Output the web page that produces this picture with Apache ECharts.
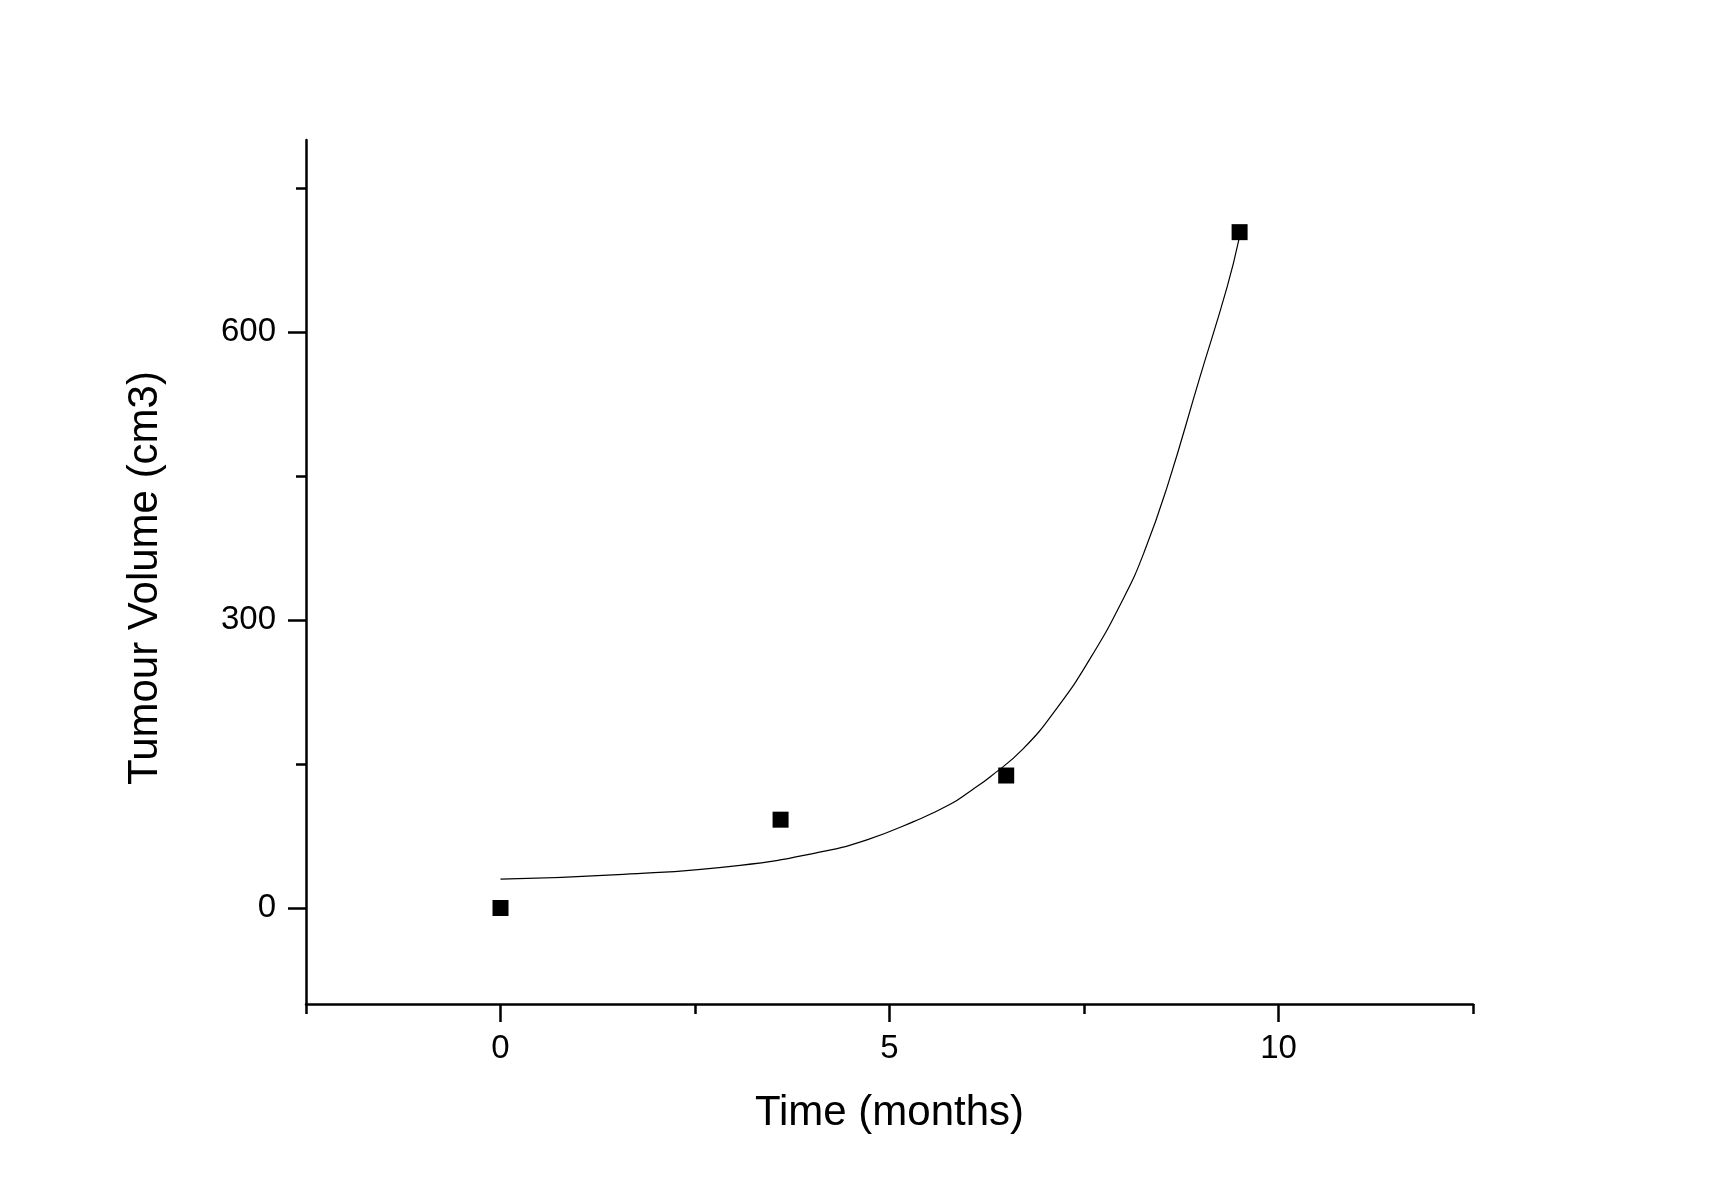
<!DOCTYPE html>
<html>
<head>
<meta charset="utf-8">
<script src="https://cdn.jsdelivr.net/npm/echarts@6/dist/echarts.min.js"></script>
<style>
html,body{margin:0;padding:0;background:#fff;}
#chart{width:1710px;height:1203px;}
</style>
</head>
<body>
<div id="chart"></div>
<script>
// Measured data points (months, cm3)
const timeMonths = [0, 3.6, 6.5, 9.5];
const tumourVolume = [0, 92, 138, 704];

// Fitted curve, points
const fitTime = [0, 1.58, 3.08, 4.15, 4.71, 5.31, 5.78, 6.06, 6.3, 6.72, 7.15, 7.58, 8.01, 8.27, 8.57, 8.99, 9.34, 9.49];
const fitVolume = [30, 35, 44.5, 59, 71, 90, 108, 123, 137, 166, 208, 260, 323, 370, 439, 553, 647, 696];

// Tick positions
const xMajorTicks = [0, 5, 10];
const xMinorTicks = [-2.5, 2.5, 7.5, 12.5];
const yMajorTicks = [0, 300, 600];
const yMinorTicks = [150, 450, 750];

const font = '"Liberation Sans", Arial, sans-serif';
const axisCol = '#000';

const chart = echarts.init(document.getElementById('chart'), null, {renderer: 'canvas'});

const baseX = {
  type: 'value', min: -2.5, max: 12.5, position: 'bottom',
  splitLine: {show: false}, minorTick: {show: false}
};
const baseY = {
  type: 'value', min: -100, max: 800, position: 'left',
  splitLine: {show: false}, minorTick: {show: false}
};

chart.setOption({
  backgroundColor: '#fff',
  animation: false,
  grid: {left: 306, right: 237, top: 140, bottom: 199, containLabel: false},
  xAxis: [
    Object.assign({}, baseX, {
      name: 'Time (months)', nameLocation: 'middle', nameGap: 88,
      nameTextStyle: {fontFamily: font, fontSize: 42, color: '#000'},
      axisLine: {show: true, onZero: false, lineStyle: {color: axisCol, width: 2.5}},
      axisTick: {show: true, inside: false, length: 18, customValues: xMajorTicks, lineStyle: {color: axisCol, width: 2.5}},
      axisLabel: {show: true, customValues: xMajorTicks, margin: 28, fontFamily: font, fontSize: 33, color: '#000'}
    }),
    Object.assign({}, baseX, {
      axisLine: {show: false, onZero: false},
      axisTick: {show: true, inside: false, length: 10, customValues: xMinorTicks, lineStyle: {color: axisCol, width: 2.5}},
      axisLabel: {show: false}
    })
  ],
  yAxis: [
    Object.assign({}, baseY, {
      name: 'Tumour Volume (cm3)', nameLocation: 'middle', nameGap: 140,
      nameTextStyle: {fontFamily: font, fontSize: 42, color: '#000', padding: [0, 12, 0, 0]},
      axisLine: {show: true, onZero: false, lineStyle: {color: axisCol, width: 2.5}},
      axisTick: {show: true, inside: false, length: 18, customValues: yMajorTicks, lineStyle: {color: axisCol, width: 2.5}},
      axisLabel: {show: true, customValues: yMajorTicks, margin: 30, fontFamily: font, fontSize: 33, color: '#000'}
    }),
    Object.assign({}, baseY, {
      axisLine: {show: false, onZero: false},
      axisTick: {show: true, inside: false, length: 10, customValues: yMinorTicks, lineStyle: {color: axisCol, width: 2.5}},
      axisLabel: {show: false}
    })
  ],
  series: [
    {
      type: 'line',
      xAxisIndex: 0, yAxisIndex: 0,
      data: fitTime.map((t, i) => [t, fitVolume[i]]),
      showSymbol: false,
      smooth: 0.5,
      lineStyle: {color: '#000', width: 1.2},
      z: 2
    },
    {
      type: 'scatter',
      xAxisIndex: 0, yAxisIndex: 0,
      data: timeMonths.map((t, i) => [t, tumourVolume[i]]),
      symbol: 'rect',
      symbolSize: 16,
      itemStyle: {color: '#000', opacity: 1},
      z: 3
    }
  ]
});
</script>
</body>
</html>
